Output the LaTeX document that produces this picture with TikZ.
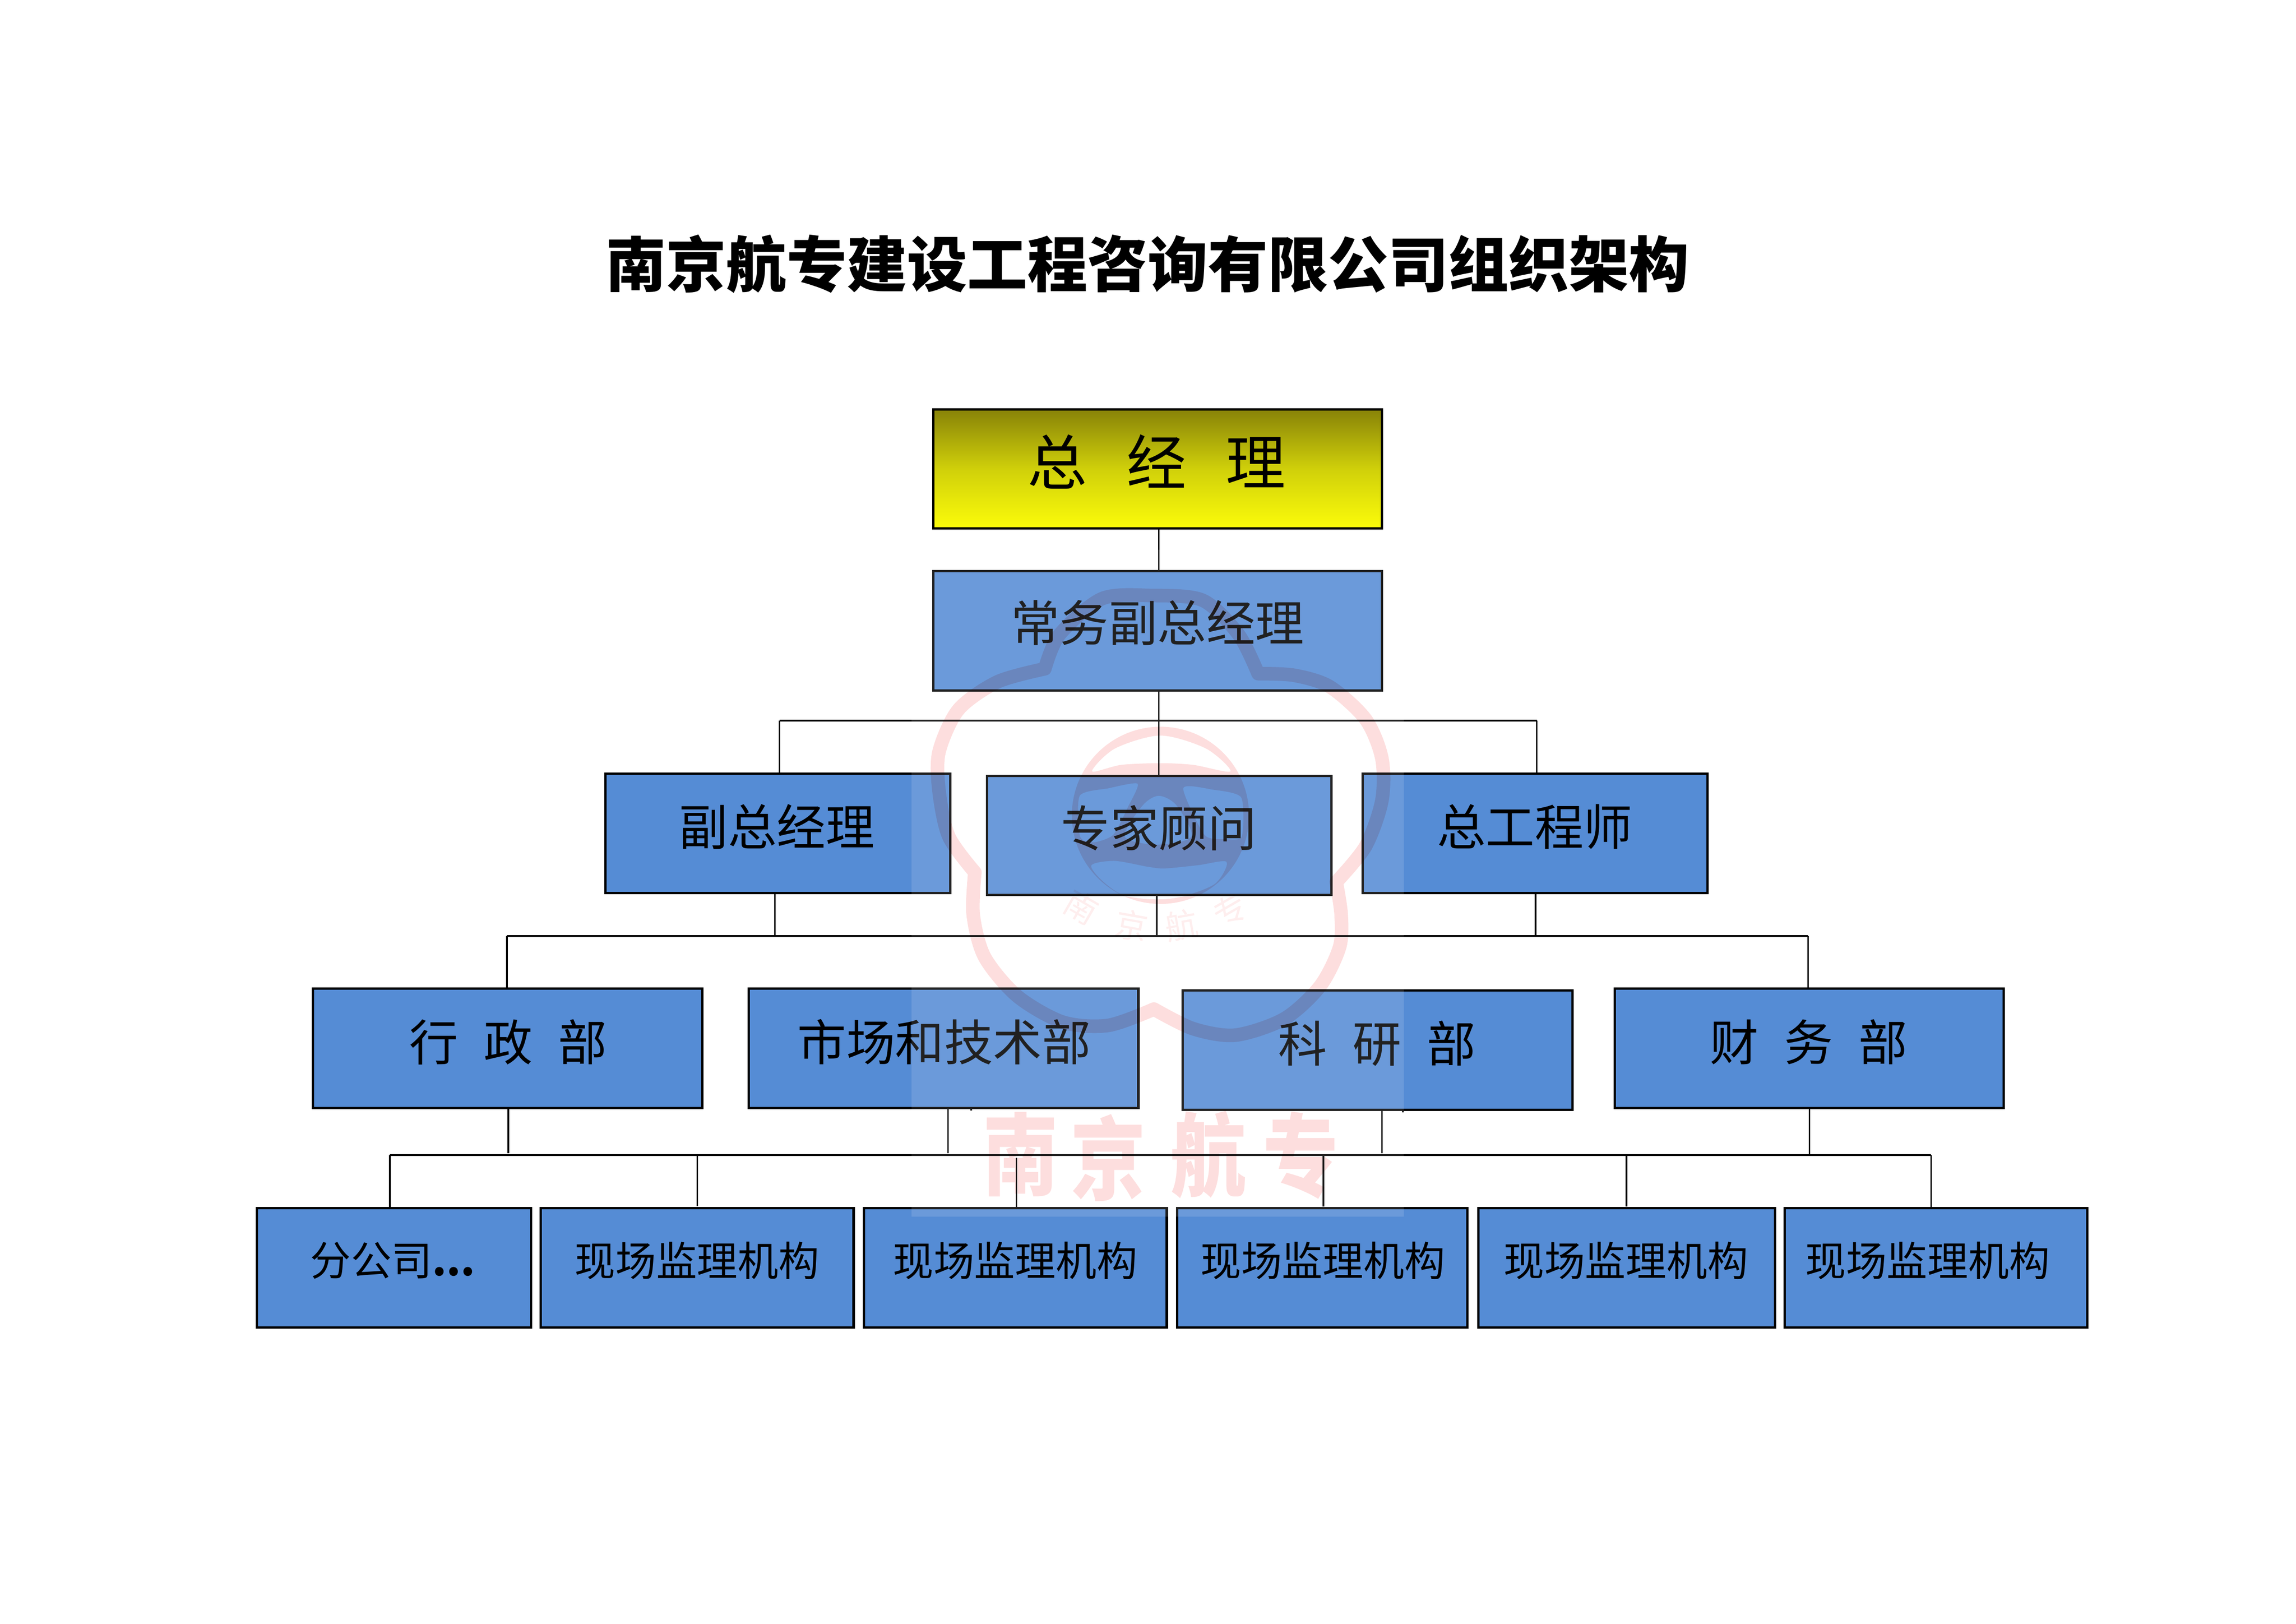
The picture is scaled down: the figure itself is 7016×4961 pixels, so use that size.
\documentclass[tikz,border=0pt]{standalone}
\usepackage{fontspec}
\setmainfont{Noto Sans CJK SC}
\usetikzlibrary{calc}
\definecolor{bxblue}{RGB}{85,140,213}
\definecolor{ytop}{RGB}{136,131,8}
\definecolor{ymid}{RGB}{208,208,10}
\definecolor{ybot}{RGB}{252,252,10}
\definecolor{wmpink}{RGB}{253,222,222}
\definecolor{wmfaint}{RGB}{254,238,238}
\tikzset{
  x=0.12045pt,y=-0.12045pt,
  boxbase/.style={rectangle,draw=black,line width=0.85pt,inner sep=0pt,outer sep=0pt},
  bluebox/.style={boxbase,fill=bxblue},
  yellowbox/.style={boxbase,top color=ytop,bottom color=ybot,middle color=ymid},
  conn/.style={draw=black,line width=0.6pt},
  bus/.style={draw=black,line width=0.72pt},
  tlarge/.style={font=\fontsize{18}{20}\selectfont,inner sep=0pt},
  tsmall/.style={font=\fontsize{15}{17}\selectfont,inner sep=0pt},
  wmtext/.style={text=wmpink,font=\bfseries\fontsize{27.7}{30}\selectfont,inner sep=0pt,yscale=1.2},
  wmsmall/.style={text=wmfaint,font=\fontsize{12}{14}\selectfont,inner sep=0pt}
}
\newcommand{\bx}[6]{%
  \pgfmathsetmacro{\cxv}{(#3+#5)/2}%
  \pgfmathsetmacro{\cyv}{(#4+#6)/2}%
  \pgfmathsetmacro{\wv}{(#5-#3-5)*0.12045}%
  \pgfmathsetmacro{\hv}{(#6-#4-5)*0.12045}%
  \node[#1,minimum width=\wv pt,minimum height=\hv pt] (#2) at (\cxv,\cyv) {};}
\begin{document}
\begin{tikzpicture}
\useasboundingbox (0,0) rectangle (7016,4961);
% title
\node[font=\bfseries\fontsize{22.15}{24}\selectfont,inner sep=0pt] (title) at (3507,806) {南京航专建设工程咨询有限公司组织架构};
% boxes
\bx{yellowbox}{gm}{2850}{1249}{4225}{1617}
\bx{bluebox}{vp}{2850}{1742}{4225}{2112}
\bx{bluebox}{fz}{1847}{2361}{2906}{2731}
\bx{bluebox}{zj}{3013}{2368}{4071}{2737}
\bx{bluebox}{zg}{4161}{2361}{5220}{2731}
\bx{bluebox}{xz}{954}{3018}{2149}{3388}
\bx{bluebox}{sc}{2285}{3018}{3481}{3388}
\bx{bluebox}{ky}{3611}{3024}{4808}{3394}
\bx{bluebox}{cw}{4932}{3018}{6125}{3388}
\bx{bluebox}{fg}{783}{3689}{1625}{4059}
\bx{bluebox}{xa}{1650}{3689}{2611}{4059}
\bx{bluebox}{xb}{2637}{3689}{3568}{4059}
\bx{bluebox}{xc}{3594}{3689}{4486}{4059}
\bx{bluebox}{xd}{4515}{3689}{5426}{4059}
\bx{bluebox}{xe}{5451}{3689}{6380}{4059}
% bus junctions
\coordinate (b1l) at (2382,2202); \coordinate (b1c) at (3541,2202); \coordinate (b1r) at (4696,2202);
\coordinate (b2l) at (1549,2860); \coordinate (b2r) at (5525,2860);
\coordinate (b2a) at (2368,2860); \coordinate (b2b) at (3535,2860); \coordinate (b2c) at (4692,2860);
\coordinate (b3l) at (1191,3529); \coordinate (b3r) at (5901,3529);
\coordinate (g1) at (1553,3523); \coordinate (g2) at (2897,3523); \coordinate (g3) at (4223,3523); \coordinate (g4) at (5529,3529);
\coordinate (d2) at (2131,3532); \coordinate (d3) at (3106,3538); \coordinate (d4) at (4044,3530); \coordinate (d5) at (4970,3530);
\coordinate (s1) at (2968,3393); \coordinate (s2) at (4287,3399);
% buses
\draw[bus] (b1l) -- (b1r);
\draw[bus] (b2l) -- (b2r);
\draw[bus] (b3l) -- (b3r);
% connectors
\draw[conn] (gm.south -| b1c) -- (vp.north -| b1c);
\draw[conn] (vp.south -| b1c) -- (b1c);
\draw[conn] (b1l) -- (fz.north -| b1l);
\draw[conn] (b1c) -- (zj.north -| b1c);
\draw[conn] (b1r) -- (zg.north -| b1r);
\draw[conn] (fz.south -| b2a) -- (b2a);
\draw[conn] (zj.south -| b2b) -- (b2b);
\draw[conn] (zg.south -| b2c) -- (b2c);
\draw[conn] (b2l) -- (xz.north -| b2l);
\draw[conn] (b2r) -- (cw.north -| b2r);
\draw[conn] (xz.south -| g1) -- (g1);
\draw[conn] (sc.south -| g2) -- (g2);
\draw[conn] (ky.south -| g3) -- (g3);
\draw[conn] (cw.south -| g4) -- (g4);
\draw[conn] (sc.south -| s1) -- (s1);
\draw[conn] (ky.south -| s2) -- (s2);
\draw[conn] (b3l) -- (fg.north -| b3l);
\draw[conn] (d2) -- ($(xa.north -| d2)+(0,-7)$);
\draw[conn] (d3) -- (xb.north -| d3);
\draw[conn] (d4) -- ($(xc.north -| d4)+(0,-6)$);
\draw[conn] (d5) -- ($(xd.north -| d5)+(0,-6)$);
\draw[conn] (b3r) -- (xe.north -| b3r);
% box texts
\node[inner sep=0pt,font=\fontsize{22}{24}\selectfont] (tgm) at (3534,1410) {总\hspace{14.5pt}经\hspace{14.5pt}理};
\node[tlarge] (tvp) at (3537,1903) {常务副总经理};
\node[tlarge] (tfz) at (2374,2526) {副总经理};
\node[tlarge] (tzj) at (3541,2530) {专家顾问};
\node[tlarge] (tzg) at (4690,2526) {总工程师};
\node[tlarge] (txz) at (1553,3184) {行\hspace{9.4pt}政\hspace{9.4pt}部};
\node[tlarge] (tsc) at (2885,3184) {市场和技术部};
\node[tlarge] (tky) at (4208,3188) {科\hspace{9.4pt}研\hspace{9.4pt}部};
\node[tlarge] (tcw) at (5527,3184) {财\hspace{9.4pt}务\hspace{9.4pt}部};
\node[tsmall] (tfg) at (1200,3852) {分公司\textbf{...}};
\node[tsmall] (txa) at (2130,3852) {现场监理机构};
\node[tsmall] (txb) at (3102,3852) {现场监理机构};
\node[tsmall] (txc) at (4042,3852) {现场监理机构};
\node[tsmall] (txd) at (4968,3852) {现场监理机构};
\node[tsmall] (txe) at (5890,3852) {现场监理机构};
% watermark: pale veil and red seal laid over the chart
\fill[white,opacity=0.13] (2785,1680) rectangle (4289,3717);
\begin{scope}[blend mode=multiply]
  \begin{scope}[shift={(2750,1700)},scale=0.995]
    \draw[wmpink,line width=5pt,line join=round]
      plot[smooth] coordinates {(445,345) (490,240) (620,130) (770,120) (930,135) (1040,240) (1100,360)}
      -- plot[smooth] coordinates {(1100,360) (1210,365) (1320,400) (1430,500) (1480,620) (1480,750) (1430,890) (1340,1000)}
      -- plot[smooth] coordinates {(1340,1000) (1355,1100) (1350,1200) (1290,1320) (1180,1420) (1030,1470) (900,1450) (780,1390)}
      -- plot[smooth] coordinates {(780,1390) (640,1440) (500,1430) (360,1350) (260,1230) (225,1100) (230,970)}
      -- plot[smooth] coordinates {(230,970) (150,860) (120,720) (120,600) (180,470) (300,385) (445,345)}
      -- cycle;
    \fill[wmpink,even odd rule]
      (800,795) circle [radius=272]
      plot[smooth cycle] coordinates {(590,660) (660,590) (800,550) (940,590) (1015,660) (900,640) (800,635) (680,640)}
      plot[smooth cycle,tension=0.4] coordinates {(552,735) (640,712) (730,698) (700,770) (655,855) (595,878) (553,860)}
      plot[smooth cycle,tension=0.4] coordinates {(870,712) (960,716) (1048,740) (1050,860) (1000,868) (935,855)}
      plot[smooth cycle] coordinates {(795,735) (745,765) (690,860) (790,885) (895,860) (850,765)}
      plot[smooth cycle,tension=0.5] coordinates {(588,948) (660,935) (762,953) (814,958) (916,948) (1003,938) (968,1005) (865,1045) (778,1053) (685,1040) (619,994)};
    \node[wmsmall,rotate=-30] (wa) at (557,1076) {南};
    \node[wmsmall,rotate=-10] (wb) at (711,1133) {京};
    \node[wmsmall,rotate=10] (wc) at (865,1133) {航};
    \node[wmsmall,rotate=30] (wd) at (1014,1087) {专};
  \end{scope}
  \node[wmtext] (wn) at (3118,3527) {南};
  \node[wmtext] (wj) at (3386,3537) {京};
  \node[wmtext] (wh) at (3692,3527) {航};
  \node[wmtext] (wz) at (3975,3530) {专};
\end{scope}
\end{tikzpicture}
\end{document}
